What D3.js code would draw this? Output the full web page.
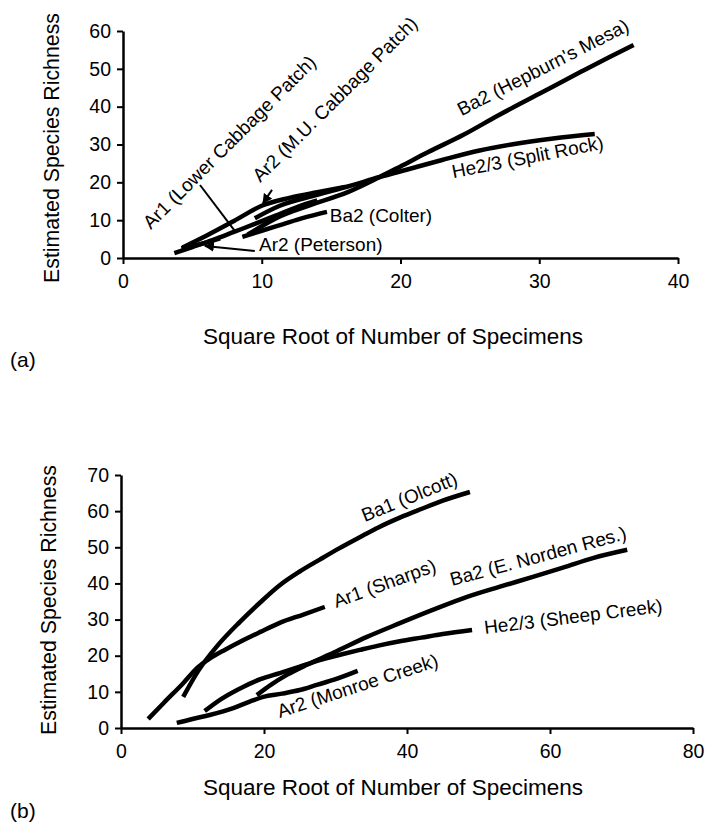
<!DOCTYPE html>
<html>
<head>
<meta charset="utf-8">
<script src="https://cdn.jsdelivr.net/npm/d3@7"></script>
<style>
  body { margin: 0; background: #fff; }
  svg { font-family: "Liberation Sans", Arial, sans-serif; }
</style>
</head>
<body>
<svg id="chart" width="708" height="828"></svg>
<script>
// panel (a) curves, [sqrt(specimens), estimated richness]
var ar1LowerCabbage = [[3.7,1.3],[5,2.9],[6.5,4.8],[8,6.9],[9.5,9.0],[11,11.2],[12.5,13.4],[14,15.2]];
var ar2MUCabbage = [[4.3,2.8],[6,5.9],[8,9.8],[10,13.8],[12,15.9],[14,17.4],[16,18.8]];
var ar2Peterson = [[4.2,2.6],[5.5,3.6],[7,5.2]];
var ba2Colter = [[8.6,5.6],[10,7.2],[11.5,8.9],[13,10.6],[14.7,12.2]];
var ba2Hepburn = [[9,6.2],[11.3,11.0],[13.5,14.0],[16.2,17.4],[18.5,21.4],[20,24.2],[22,28],[24.5,32.5],[27,37.6],[30,43.4],[33,49.2],[35,53],[36.8,56.3]];
var he23SplitRock = [[9.5,10.5],[11.3,13.8],[14,16.7],[16.2,18.9],[18.5,21.4],[20.5,23.4],[23,25.9],[25.7,28.4],[28,30],[31,31.6],[34,32.8]];

// panel (b) curves
var ba1Olcott = [[8.7,8.6],[10.8,15.8],[13.5,22.8],[16.6,29.3],[19.5,34.8],[22.2,39.5],[25,43.3],[27.8,46.6],[30.5,49.7],[33.4,52.8],[36,55.5],[39,58.2],[42,60.6],[45,62.9],[48.8,65.3]];
var ar1Sharps = [[3.8,2.5],[6,7],[8.7,12.4],[10.8,16.9],[12.4,19.2],[14.5,21.6],[16.6,23.8],[19.5,26.6],[22.2,29.1],[25.5,31.4],[28.5,33.5]];
var ba2ENorden = [[19,9.1],[21,12],[23.2,14.7],[26,17.5],[29.7,20.8],[34.4,25.2],[39,29],[43.5,32.6],[48.4,36.3],[53,39.1],[57.6,41.8],[62,44.5],[66,47],[70.8,49.3]];
var he23SheepCreek = [[11.7,4.7],[14,8],[17,11.3],[19.5,13.5],[22.2,15.2],[25,17],[27.8,18.8],[30.5,20.2],[33.4,21.6],[36,22.8],[39,24],[42,25],[45,26],[49.1,27.1]];
var ar2MonroeCreek = [[7.8,1.4],[10,2.5],[12.4,3.6],[15.7,5.5],[18,7.3],[19.9,8.6],[22.5,9.5],[25,10.5],[27.5,12],[29.7,13.3],[33.1,15.8]];

var aXTicks = [0, 10, 20, 30, 40];
var aYTicks = [0, 10, 20, 30, 40, 50, 60];
var bXTicks = [0, 20, 40, 60, 80];
var bYTicks = [0, 10, 20, 30, 40, 50, 60, 70];

var xTitle = 'Square Root of Number of Specimens';
var yTitle = 'Estimated Species Richness';

var svg = d3.select('#chart');

svg.append('defs').append('marker')
    .attr('id', 'arrow')
    .attr('viewBox', '0 0 10 10')
    .attr('refX', 9).attr('refY', 5)
    .attr('markerWidth', 5).attr('markerHeight', 5)
    .attr('orient', 'auto')
    .append('path')
    .attr('d', 'M0,0 L10,5 L0,10 z')
    .attr('fill', '#000');

function drawPanel(opt) {
    var x = d3.scaleLinear().domain(opt.xDomain).range(opt.xRange);
    var y = d3.scaleLinear().domain(opt.yDomain).range(opt.yRange);
    var g = svg.append('g');

    var xAxis = g.append('g')
        .attr('transform', 'translate(0,' + opt.yRange[0] + ')')
        .call(d3.axisBottom(x).tickValues(opt.xTicks).tickSize(6).tickSizeOuter(0).tickPadding(10));
    var yAxis = g.append('g')
        .attr('transform', 'translate(' + opt.xRange[0] + ',0)')
        .call(d3.axisLeft(y).tickValues(opt.yTicks).tickSize(6).tickSizeOuter(0).tickPadding(6));

    [xAxis, yAxis].forEach(function (ax) {
        ax.select('.domain').attr('stroke-width', 2.5);
        ax.selectAll('.tick line').attr('stroke-width', 2);
        ax.selectAll('.tick text')
            .attr('font-size', 19.5)
            .attr('font-family', '"Liberation Sans", Arial, sans-serif')
            .attr('fill', '#000');
    });

    var line = d3.line()
        .x(function (d) { return x(d[0]); })
        .y(function (d) { return y(d[1]); })
        .curve(d3.curveMonotoneX);

    g.selectAll('path.curve')
        .data(opt.series)
        .enter()
        .append('path')
        .attr('class', 'curve')
        .attr('d', line)
        .attr('fill', 'none')
        .attr('stroke', '#000')
        .attr('stroke-width', 4.5);

    // labels next to the curves
    opt.labels.forEach(function (l) {
        g.append('text')
            .attr('transform', 'translate(' + x(l.at[0]) + ',' + y(l.at[1]) + ') rotate(' + l.rot + ')')
            .attr('font-size', 19)
            .text(l.text);
    });

    (opt.pointers || []).forEach(function (p) {
        g.append('line')
            .attr('x1', x(p.from[0])).attr('y1', y(p.from[1]))
            .attr('x2', x(p.to[0])).attr('y2', y(p.to[1]))
            .attr('stroke', '#000')
            .attr('stroke-width', 2)
            .attr('marker-end', p.arrow ? 'url(#arrow)' : null);
    });

    g.append('text')
        .attr('x', opt.xTitlePos[0]).attr('y', opt.xTitlePos[1])
        .attr('text-anchor', 'middle')
        .attr('font-size', 22.5)
        .text(xTitle);

    g.append('text')
        .attr('transform', 'translate(' + opt.yTitlePos[0] + ',' + opt.yTitlePos[1] + ') rotate(-90)')
        .attr('text-anchor', 'middle')
        .attr('font-size', 21.3)
        .text(yTitle);

    g.append('text')
        .attr('x', 10).attr('y', opt.tagY)
        .attr('font-size', 21)
        .text(opt.tag);
}

drawPanel({
    xDomain: [0, 40], yDomain: [0, 60],
    xRange: [123, 678], yRange: [258, 31],
    xTicks: aXTicks, yTicks: aYTicks,
    series: [ar1LowerCabbage, ar2MUCabbage, ar2Peterson, ba2Colter, ba2Hepburn, he23SplitRock],
    labels: [
        {text: 'Ar1 (Lower Cabbage Patch)', at: [2.0, 7.4], rot: -45},
        {text: 'Ar2 (M.U. Cabbage Patch)', at: [9.9, 19.8], rot: -45},
        {text: 'Ar2 (Peterson)', at: [9.8, 1.85], rot: 0},
        {text: 'Ba2 (Colter)', at: [14.9, 9.5], rot: 0},
        {text: "Ba2 (Hepburn's Mesa)", at: [24.4, 37.5], rot: -27},
        {text: 'He2/3 (Split Rock)', at: [23.8, 21.1], rot: -11}
    ],
    pointers: [
        {from: [5.55, 19.3], to: [8.07, 7.1], arrow: false},
        {from: [10.74, 18], to: [10.09, 14.5], arrow: true},
        {from: [9.5, 1.85], to: [5.9, 3.2], arrow: true}
    ],
    xTitlePos: [393, 344], yTitlePos: [59, 148],
    tag: '(a)', tagY: 367
});

drawPanel({
    xDomain: [0, 80], yDomain: [0, 70],
    xRange: [121, 693], yRange: [728, 475],
    xTicks: bXTicks, yTicks: bYTicks,
    series: [ba1Olcott, ar1Sharps, ba2ENorden, he23SheepCreek, ar2MonroeCreek],
    labels: [
        {text: 'Ba1 (Olcott)', at: [34.1, 57], rot: -22},
        {text: 'Ar1 (Sharps)', at: [30.1, 33.2], rot: -20},
        {text: 'Ba2 (E. Norden Res.)', at: [46.3, 39.3], rot: -15},
        {text: 'He2/3 (Sheep Creek)', at: [50.9, 26], rot: -7},
        {text: 'Ar2 (Monroe Creek)', at: [22.2, 2.8], rot: -18}
    ],
    xTitlePos: [393, 795], yTitlePos: [56, 600],
    tag: '(b)', tagY: 818
});
</script>
</body>
</html>
